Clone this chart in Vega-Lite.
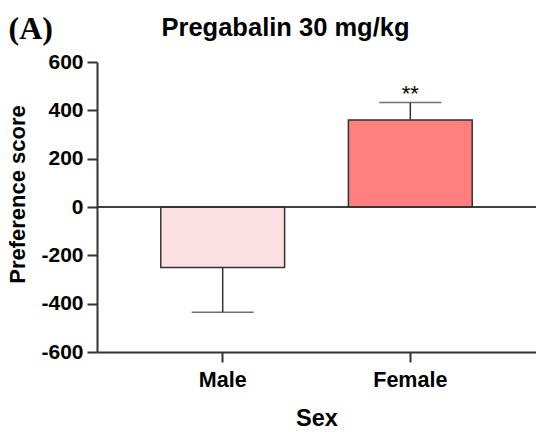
{
  "$schema": "https://vega.github.io/schema/vega-lite/v6.json",
  "autosize": {"type": "none"},
  "padding": {"left": 97, "top": 62, "right": 0, "bottom": 80},
  "width": 439,
  "height": 290,
  "background": "white",
  "config": {
    "view": {"stroke": null},
    "font": "Liberation Sans"
  },
  "data": {
    "values": [
      {"Sex": "Male", "score": -250, "err": -435, "sig": ""},
      {"Sex": "Female", "score": 360, "err": 432, "sig": "**"}
    ]
  },
  "resolve": {"axis": {"x": "independent", "y": "independent"}},
  "layer": [
    {
      "mark": {"type": "bar", "stroke": "#333", "strokeWidth": 1.5},
      "encoding": {
        "x": {
          "field": "Sex", "type": "nominal", "sort": ["Male", "Female"],
          "scale": {"type": "band", "paddingInner": 0.34, "paddingOuter": 0.34},
          "axis": {
            "orient": "bottom",
            "title": "Sex",
            "labelAngle": 0,
            "labelFont": "Liberation Sans",
            "labelFontSize": 21.5,
            "labelFontWeight": "bold",
            "labelColor": "#000",
            "labelPadding": 7,
            "titleFont": "Liberation Sans",
            "titleFontSize": 23.5,
            "titleFontWeight": "bold",
            "titleColor": "#000",
            "titlePadding": 16,
            "tickSize": 10,
            "tickWidth": 2,
            "tickColor": "#333",
            "domainColor": "#333",
            "domainWidth": 2
          }
        },
        "y": {
          "field": "score", "type": "quantitative",
          "scale": {"domain": [-600, 600], "nice": false},
          "axis": {
            "title": "Preference score",
            "values": [-600, -400, -200, 0, 200, 400, 600],
            "labelExpr": "toString(datum.value)",
            "grid": false,
            "labelFont": "Liberation Sans",
            "labelFontSize": 21,
            "labelFontWeight": "bold",
            "labelColor": "#000",
            "labelPadding": 4,
            "titleFont": "Liberation Sans",
            "titleFontSize": 22,
            "titleFontWeight": "bold",
            "titleColor": "#000",
            "titlePadding": 11,
            "titleY": 132,
            "tickSize": 10,
            "tickWidth": 2,
            "tickColor": "#333",
            "domainColor": "#333",
            "domainWidth": 2
          }
        },
        "fill": {
          "field": "Sex", "type": "nominal",
          "scale": {"domain": ["Male", "Female"], "range": ["#FDE0E1", "#FF7F7F"]},
          "legend": null
        }
      }
    },
    {
      "mark": {"type": "rule", "stroke": "#333", "strokeWidth": 1.5},
      "encoding": {
        "x": {
          "field": "Sex", "type": "nominal", "sort": ["Male", "Female"],
          "scale": {"type": "band", "paddingInner": 0.34, "paddingOuter": 0.34},
          "axis": {
            "orient": "top",
            "labels": false,
            "ticks": false,
            "domain": false,
            "title": "Pregabalin 30 mg/kg",
            "titleFont": "Liberation Sans",
            "titleFontSize": 25.5,
            "titleFontWeight": "bold",
            "titleColor": "#000",
            "titleAlign": "center",
            "titleBaseline": "alphabetic",
            "titleX": 188,
            "titleY": -27
          }
        },
        "y": {"field": "score", "type": "quantitative", "axis": null},
        "y2": {"field": "err"}
      }
    },
    {
      "mark": {"type": "tick", "color": "#333", "thickness": 1.5, "size": 62},
      "encoding": {
        "x": {"field": "Sex", "type": "nominal", "sort": ["Male", "Female"], "scale": {"type": "band", "paddingInner": 0.34, "paddingOuter": 0.34}, "axis": null},
        "y": {
          "field": "err", "type": "quantitative",
          "axis": {
            "orient": "right",
            "labels": false,
            "ticks": false,
            "domain": false,
            "grid": false,
            "title": "(A)",
            "titleAngle": 0,
            "titleFont": "Liberation Serif",
            "titleFontSize": 32,
            "titleFontWeight": "bold",
            "titleColor": "#000",
            "titleAlign": "left",
            "titleBaseline": "alphabetic",
            "titleX": -528,
            "titleY": -24
          }
        }
      }
    },
    {
      "mark": {"type": "rule", "stroke": "#333", "strokeWidth": 1.5},
      "encoding": {"y": {"datum": 0, "axis": null}}
    },
    {
      "mark": {"type": "text", "dy": -2, "fontSize": 22, "font": "Liberation Sans", "color": "#000", "baseline": "alphabetic"},
      "encoding": {
        "x": {"field": "Sex", "type": "nominal", "sort": ["Male", "Female"], "scale": {"type": "band", "paddingInner": 0.34, "paddingOuter": 0.34}, "axis": null},
        "y": {"field": "err", "type": "quantitative", "axis": null},
        "text": {"field": "sig"}
      }
    }
  ]
}
